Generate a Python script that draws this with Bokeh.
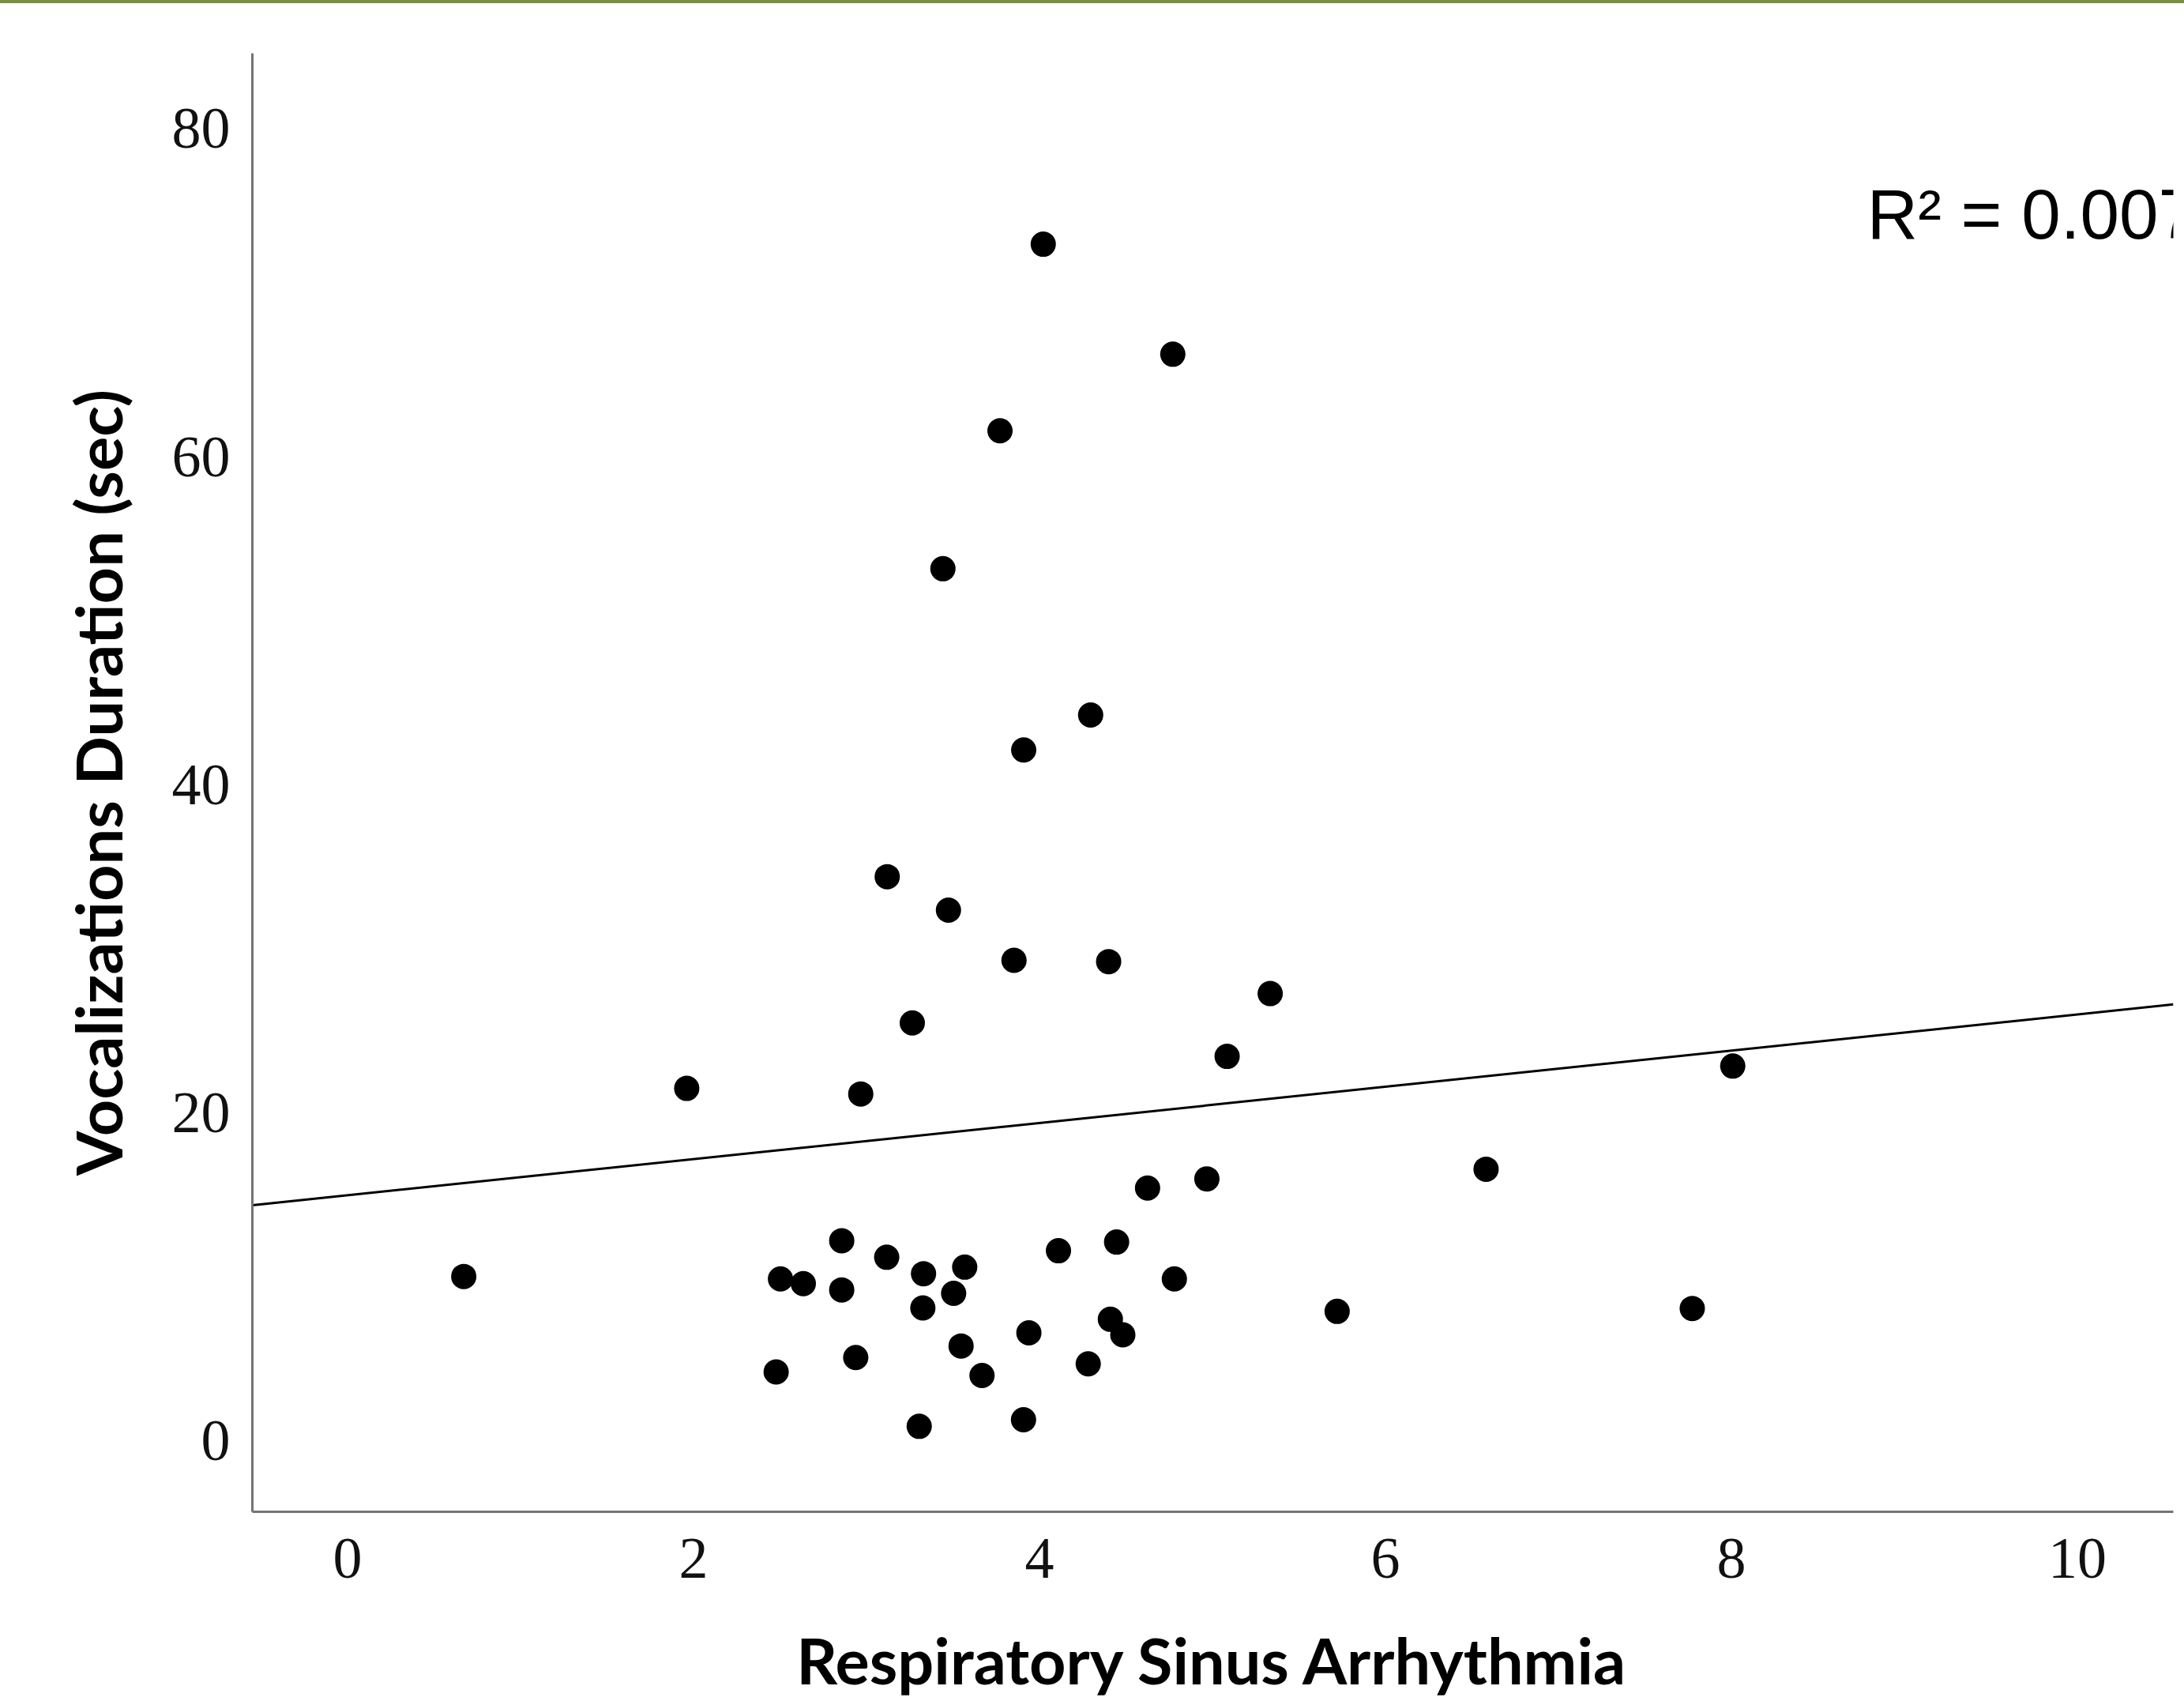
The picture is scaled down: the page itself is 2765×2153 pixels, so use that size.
from bokeh.plotting import figure
from bokeh.models import Range1d, Label, FixedTicker, Div
from bokeh.layouts import column
from bokeh.embed import file_html
from bokeh.resources import INLINE

# ---- data ----
rsa = [0.672, 1.961, 2.478, 2.503, 2.635, 2.857, 2.857, 2.938, 2.967, 3.120,
       3.117, 3.265, 3.305, 3.330, 3.326, 3.442, 3.474, 3.504, 3.547, 3.568,
       3.668, 3.772, 3.853, 3.909, 3.908, 3.939, 4.022, 4.110, 4.282, 4.296,
       4.400, 4.410, 4.446, 4.482, 4.625, 4.771, 4.780, 4.968, 5.085, 5.334,
       5.721, 6.582, 7.774, 8.008]
duration = [10.01, 21.48, 4.19, 9.86, 9.57, 12.19, 9.19, 5.07, 21.14, 34.39,
            11.18, 25.47, 0.87, 10.18, 8.09, 53.17, 32.35, 8.98, 5.77, 10.58,
            3.97, 61.58, 29.29, 42.12, 1.27, 6.57, 72.96, 11.58, 4.68, 44.25,
            29.21, 7.40, 12.11, 6.45, 15.40, 66.25, 9.86, 15.96, 23.43, 27.26,
            7.88, 16.55, 8.06, 22.84]
fit_intercept = 14.96
fit_slope = 1.103
r_squared = 0.007
x_ticks = [0, 2, 4, 6, 8, 10]
y_ticks = [0, 20, 40, 60, 80]
x_title = "Respiratory Sinus Arrhythmia"
y_title = "Vocalizations Duration (sec)"

X_MIN, X_MAX = -0.55, 10.555
Y_MIN, Y_MAX = -4.34, 84.6

BAR_H = 4
W, H = 2765, 2153

p = figure(width=W, height=H - BAR_H, output_backend="svg", toolbar_location=None,
           x_range=Range1d(X_MIN, X_MAX), y_range=Range1d(Y_MIN, Y_MAX),
           min_border_left=319, min_border_right=W - 2751,
           min_border_top=67 - BAR_H, min_border_bottom=H - 1913)
p.outline_line_color = None
p.grid.visible = False
p.background_fill_color = "white"
p.border_fill_color = "white"

# regression line across the whole x range
line_x = [X_MIN, X_MAX]
line_y = [fit_intercept + fit_slope * v for v in line_x]
p.line(line_x, line_y, line_color="black", line_width=3)

p.scatter(rsa, duration, size=32, fill_color="black", line_color="black",
          line_width=0)

for ax in (p.xaxis, p.yaxis):
    ax.axis_line_color = "#737373"
    ax.axis_line_width = 3
    ax.major_tick_line_color = None
    ax.minor_tick_line_color = None
    ax.major_label_text_font = "Liberation Serif"
    ax.major_label_text_font_size = "74px"
    ax.major_label_text_color = "#111111"
    ax.axis_label_text_font = "Lato"
    ax.axis_label_text_font_style = "bold"
    ax.axis_label_text_font_size = "81px"
    ax.axis_label_text_color = "black"

p.xaxis.ticker = FixedTicker(ticks=x_ticks)
p.yaxis.ticker = FixedTicker(ticks=y_ticks)
p.xaxis.axis_label = x_title
p.yaxis.axis_label = y_title
p.xaxis.major_label_standoff = 28
p.xaxis.axis_label_standoff = 52
p.yaxis.major_label_standoff = 22
p.yaxis.axis_label_standoff = 43

p.add_layout(Label(x=8.785, y=74.8, text=f"R\u00b2 = {r_squared:.3f}",
                   text_font="Liberation Sans", text_font_size="89px",
                   text_color="black", text_align="left",
                   text_baseline="alphabetic"))

# green strip across the top of the page
bar = Div(text="", width=W, height=BAR_H, margin=(0, 0, 0, 0),
          styles={"background-color": "#76903f"})

layout = column(bar, p, spacing=0)
open("out.html", "w").write(file_html(layout, INLINE))
